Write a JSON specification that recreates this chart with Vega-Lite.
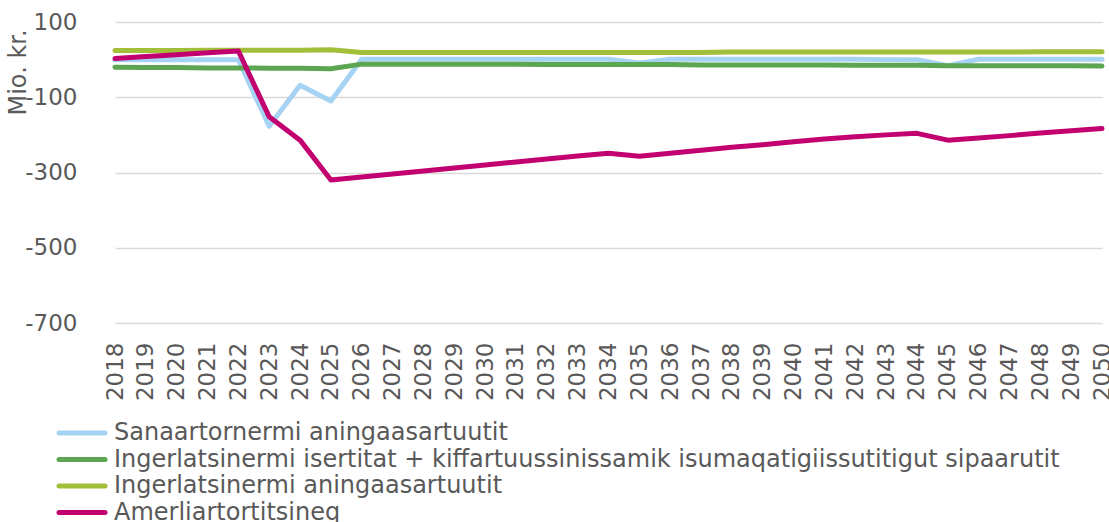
{
  "$schema": "https://vega.github.io/schema/vega-lite/v6.json",
  "autosize": "none",
  "width": 1009,
  "height": 301,
  "padding": {"left": 100, "top": 22, "right": 0, "bottom": 199},
  "background": "white",
  "config": {
    "view": {"stroke": null},
    "font": "DejaVu Sans",
    "axis": {"labelColor": "#595959", "titleColor": "#595959", "labelFontSize": 23, "titleFontSize": 24, "titleFontWeight": "normal", "gridColor": "#d9d9d9", "gridWidth": 1.5, "domain": false, "ticks": false},
    "legend": {"labelColor": "#595959", "labelFontSize": 24}
  },
  "data": {"values": [
    {"year": "2018", "series": "Sanaartornermi aningaasartuutit", "value": 0},
    {"year": "2019", "series": "Sanaartornermi aningaasartuutit", "value": 0},
    {"year": "2020", "series": "Sanaartornermi aningaasartuutit", "value": 0},
    {"year": "2021", "series": "Sanaartornermi aningaasartuutit", "value": 0},
    {"year": "2022", "series": "Sanaartornermi aningaasartuutit", "value": 0},
    {"year": "2023", "series": "Sanaartornermi aningaasartuutit", "value": -177},
    {"year": "2024", "series": "Sanaartornermi aningaasartuutit", "value": -68},
    {"year": "2025", "series": "Sanaartornermi aningaasartuutit", "value": -110},
    {"year": "2026", "series": "Sanaartornermi aningaasartuutit", "value": 1},
    {"year": "2027", "series": "Sanaartornermi aningaasartuutit", "value": 1},
    {"year": "2028", "series": "Sanaartornermi aningaasartuutit", "value": 1},
    {"year": "2029", "series": "Sanaartornermi aningaasartuutit", "value": 1},
    {"year": "2030", "series": "Sanaartornermi aningaasartuutit", "value": 1},
    {"year": "2031", "series": "Sanaartornermi aningaasartuutit", "value": 1},
    {"year": "2032", "series": "Sanaartornermi aningaasartuutit", "value": 1},
    {"year": "2033", "series": "Sanaartornermi aningaasartuutit", "value": 1},
    {"year": "2034", "series": "Sanaartornermi aningaasartuutit", "value": 1},
    {"year": "2035", "series": "Sanaartornermi aningaasartuutit", "value": -9},
    {"year": "2036", "series": "Sanaartornermi aningaasartuutit", "value": 1},
    {"year": "2037", "series": "Sanaartornermi aningaasartuutit", "value": 1},
    {"year": "2038", "series": "Sanaartornermi aningaasartuutit", "value": 1},
    {"year": "2039", "series": "Sanaartornermi aningaasartuutit", "value": 1},
    {"year": "2040", "series": "Sanaartornermi aningaasartuutit", "value": 1},
    {"year": "2041", "series": "Sanaartornermi aningaasartuutit", "value": 1},
    {"year": "2042", "series": "Sanaartornermi aningaasartuutit", "value": 1},
    {"year": "2043", "series": "Sanaartornermi aningaasartuutit", "value": 0},
    {"year": "2044", "series": "Sanaartornermi aningaasartuutit", "value": 0},
    {"year": "2045", "series": "Sanaartornermi aningaasartuutit", "value": -16},
    {"year": "2046", "series": "Sanaartornermi aningaasartuutit", "value": 1},
    {"year": "2047", "series": "Sanaartornermi aningaasartuutit", "value": 1},
    {"year": "2048", "series": "Sanaartornermi aningaasartuutit", "value": 1},
    {"year": "2049", "series": "Sanaartornermi aningaasartuutit", "value": 1},
    {"year": "2050", "series": "Sanaartornermi aningaasartuutit", "value": 1},

    {"year": "2018", "series": "Ingerlatsinermi isertitat + kiffartuussinissamik isumaqatigiissutitigut sipaarutit", "value": -20},
    {"year": "2019", "series": "Ingerlatsinermi isertitat + kiffartuussinissamik isumaqatigiissutitigut sipaarutit", "value": -21},
    {"year": "2020", "series": "Ingerlatsinermi isertitat + kiffartuussinissamik isumaqatigiissutitigut sipaarutit", "value": -21},
    {"year": "2021", "series": "Ingerlatsinermi isertitat + kiffartuussinissamik isumaqatigiissutitigut sipaarutit", "value": -22},
    {"year": "2022", "series": "Ingerlatsinermi isertitat + kiffartuussinissamik isumaqatigiissutitigut sipaarutit", "value": -22},
    {"year": "2023", "series": "Ingerlatsinermi isertitat + kiffartuussinissamik isumaqatigiissutitigut sipaarutit", "value": -23},
    {"year": "2024", "series": "Ingerlatsinermi isertitat + kiffartuussinissamik isumaqatigiissutitigut sipaarutit", "value": -23},
    {"year": "2025", "series": "Ingerlatsinermi isertitat + kiffartuussinissamik isumaqatigiissutitigut sipaarutit", "value": -24},
    {"year": "2026", "series": "Ingerlatsinermi isertitat + kiffartuussinissamik isumaqatigiissutitigut sipaarutit", "value": -12},
    {"year": "2027", "series": "Ingerlatsinermi isertitat + kiffartuussinissamik isumaqatigiissutitigut sipaarutit", "value": -12},
    {"year": "2028", "series": "Ingerlatsinermi isertitat + kiffartuussinissamik isumaqatigiissutitigut sipaarutit", "value": -12},
    {"year": "2029", "series": "Ingerlatsinermi isertitat + kiffartuussinissamik isumaqatigiissutitigut sipaarutit", "value": -12},
    {"year": "2030", "series": "Ingerlatsinermi isertitat + kiffartuussinissamik isumaqatigiissutitigut sipaarutit", "value": -12},
    {"year": "2031", "series": "Ingerlatsinermi isertitat + kiffartuussinissamik isumaqatigiissutitigut sipaarutit", "value": -12},
    {"year": "2032", "series": "Ingerlatsinermi isertitat + kiffartuussinissamik isumaqatigiissutitigut sipaarutit", "value": -13},
    {"year": "2033", "series": "Ingerlatsinermi isertitat + kiffartuussinissamik isumaqatigiissutitigut sipaarutit", "value": -13},
    {"year": "2034", "series": "Ingerlatsinermi isertitat + kiffartuussinissamik isumaqatigiissutitigut sipaarutit", "value": -13},
    {"year": "2035", "series": "Ingerlatsinermi isertitat + kiffartuussinissamik isumaqatigiissutitigut sipaarutit", "value": -13},
    {"year": "2036", "series": "Ingerlatsinermi isertitat + kiffartuussinissamik isumaqatigiissutitigut sipaarutit", "value": -13},
    {"year": "2037", "series": "Ingerlatsinermi isertitat + kiffartuussinissamik isumaqatigiissutitigut sipaarutit", "value": -14},
    {"year": "2038", "series": "Ingerlatsinermi isertitat + kiffartuussinissamik isumaqatigiissutitigut sipaarutit", "value": -14},
    {"year": "2039", "series": "Ingerlatsinermi isertitat + kiffartuussinissamik isumaqatigiissutitigut sipaarutit", "value": -14},
    {"year": "2040", "series": "Ingerlatsinermi isertitat + kiffartuussinissamik isumaqatigiissutitigut sipaarutit", "value": -14},
    {"year": "2041", "series": "Ingerlatsinermi isertitat + kiffartuussinissamik isumaqatigiissutitigut sipaarutit", "value": -14},
    {"year": "2042", "series": "Ingerlatsinermi isertitat + kiffartuussinissamik isumaqatigiissutitigut sipaarutit", "value": -15},
    {"year": "2043", "series": "Ingerlatsinermi isertitat + kiffartuussinissamik isumaqatigiissutitigut sipaarutit", "value": -15},
    {"year": "2044", "series": "Ingerlatsinermi isertitat + kiffartuussinissamik isumaqatigiissutitigut sipaarutit", "value": -15},
    {"year": "2045", "series": "Ingerlatsinermi isertitat + kiffartuussinissamik isumaqatigiissutitigut sipaarutit", "value": -16},
    {"year": "2046", "series": "Ingerlatsinermi isertitat + kiffartuussinissamik isumaqatigiissutitigut sipaarutit", "value": -16},
    {"year": "2047", "series": "Ingerlatsinermi isertitat + kiffartuussinissamik isumaqatigiissutitigut sipaarutit", "value": -16},
    {"year": "2048", "series": "Ingerlatsinermi isertitat + kiffartuussinissamik isumaqatigiissutitigut sipaarutit", "value": -16},
    {"year": "2049", "series": "Ingerlatsinermi isertitat + kiffartuussinissamik isumaqatigiissutitigut sipaarutit", "value": -16},
    {"year": "2050", "series": "Ingerlatsinermi isertitat + kiffartuussinissamik isumaqatigiissutitigut sipaarutit", "value": -17},

    {"year": "2018", "series": "Ingerlatsinermi aningaasartuutit", "value": 24},
    {"year": "2019", "series": "Ingerlatsinermi aningaasartuutit", "value": 24},
    {"year": "2020", "series": "Ingerlatsinermi aningaasartuutit", "value": 24},
    {"year": "2021", "series": "Ingerlatsinermi aningaasartuutit", "value": 25},
    {"year": "2022", "series": "Ingerlatsinermi aningaasartuutit", "value": 25},
    {"year": "2023", "series": "Ingerlatsinermi aningaasartuutit", "value": 25},
    {"year": "2024", "series": "Ingerlatsinermi aningaasartuutit", "value": 25},
    {"year": "2025", "series": "Ingerlatsinermi aningaasartuutit", "value": 26},
    {"year": "2026", "series": "Ingerlatsinermi aningaasartuutit", "value": 19},
    {"year": "2027", "series": "Ingerlatsinermi aningaasartuutit", "value": 19},
    {"year": "2028", "series": "Ingerlatsinermi aningaasartuutit", "value": 19},
    {"year": "2029", "series": "Ingerlatsinermi aningaasartuutit", "value": 19},
    {"year": "2030", "series": "Ingerlatsinermi aningaasartuutit", "value": 19},
    {"year": "2031", "series": "Ingerlatsinermi aningaasartuutit", "value": 19},
    {"year": "2032", "series": "Ingerlatsinermi aningaasartuutit", "value": 19},
    {"year": "2033", "series": "Ingerlatsinermi aningaasartuutit", "value": 19},
    {"year": "2034", "series": "Ingerlatsinermi aningaasartuutit", "value": 19},
    {"year": "2035", "series": "Ingerlatsinermi aningaasartuutit", "value": 19},
    {"year": "2036", "series": "Ingerlatsinermi aningaasartuutit", "value": 19},
    {"year": "2037", "series": "Ingerlatsinermi aningaasartuutit", "value": 19},
    {"year": "2038", "series": "Ingerlatsinermi aningaasartuutit", "value": 20},
    {"year": "2039", "series": "Ingerlatsinermi aningaasartuutit", "value": 20},
    {"year": "2040", "series": "Ingerlatsinermi aningaasartuutit", "value": 20},
    {"year": "2041", "series": "Ingerlatsinermi aningaasartuutit", "value": 20},
    {"year": "2042", "series": "Ingerlatsinermi aningaasartuutit", "value": 20},
    {"year": "2043", "series": "Ingerlatsinermi aningaasartuutit", "value": 20},
    {"year": "2044", "series": "Ingerlatsinermi aningaasartuutit", "value": 20},
    {"year": "2045", "series": "Ingerlatsinermi aningaasartuutit", "value": 20},
    {"year": "2046", "series": "Ingerlatsinermi aningaasartuutit", "value": 20},
    {"year": "2047", "series": "Ingerlatsinermi aningaasartuutit", "value": 20},
    {"year": "2048", "series": "Ingerlatsinermi aningaasartuutit", "value": 21},
    {"year": "2049", "series": "Ingerlatsinermi aningaasartuutit", "value": 21},
    {"year": "2050", "series": "Ingerlatsinermi aningaasartuutit", "value": 21},

    {"year": "2018", "series": "Amerliartortitsineq", "value": 3},
    {"year": "2019", "series": "Amerliartortitsineq", "value": 8},
    {"year": "2020", "series": "Amerliartortitsineq", "value": 13},
    {"year": "2021", "series": "Amerliartortitsineq", "value": 18},
    {"year": "2022", "series": "Amerliartortitsineq", "value": 23},
    {"year": "2023", "series": "Amerliartortitsineq", "value": -152},
    {"year": "2024", "series": "Amerliartortitsineq", "value": -214},
    {"year": "2025", "series": "Amerliartortitsineq", "value": -320},
    {"year": "2026", "series": "Amerliartortitsineq", "value": -312},
    {"year": "2027", "series": "Amerliartortitsineq", "value": -304},
    {"year": "2028", "series": "Amerliartortitsineq", "value": -296},
    {"year": "2029", "series": "Amerliartortitsineq", "value": -288},
    {"year": "2030", "series": "Amerliartortitsineq", "value": -280},
    {"year": "2031", "series": "Amerliartortitsineq", "value": -272},
    {"year": "2032", "series": "Amerliartortitsineq", "value": -264},
    {"year": "2033", "series": "Amerliartortitsineq", "value": -256},
    {"year": "2034", "series": "Amerliartortitsineq", "value": -249},
    {"year": "2035", "series": "Amerliartortitsineq", "value": -257},
    {"year": "2036", "series": "Amerliartortitsineq", "value": -249},
    {"year": "2037", "series": "Amerliartortitsineq", "value": -241},
    {"year": "2038", "series": "Amerliartortitsineq", "value": -233},
    {"year": "2039", "series": "Amerliartortitsineq", "value": -226},
    {"year": "2040", "series": "Amerliartortitsineq", "value": -218},
    {"year": "2041", "series": "Amerliartortitsineq", "value": -211},
    {"year": "2042", "series": "Amerliartortitsineq", "value": -205},
    {"year": "2043", "series": "Amerliartortitsineq", "value": -200},
    {"year": "2044", "series": "Amerliartortitsineq", "value": -196},
    {"year": "2045", "series": "Amerliartortitsineq", "value": -214},
    {"year": "2046", "series": "Amerliartortitsineq", "value": -208},
    {"year": "2047", "series": "Amerliartortitsineq", "value": -202},
    {"year": "2048", "series": "Amerliartortitsineq", "value": -195},
    {"year": "2049", "series": "Amerliartortitsineq", "value": -189},
    {"year": "2050", "series": "Amerliartortitsineq", "value": -183}
  ]},
  "mark": {"type": "line", "strokeWidth": 5, "strokeCap": "round", "strokeJoin": "round"},
  "encoding": {
    "x": {"field": "year", "type": "ordinal", "title": null,
      "scale": {"type": "point", "padding": 0, "range": [15, 1002]},
      "axis": {"labelAngle": -90, "labelPadding": 19, "grid": false}},
    "y": {"field": "value", "type": "quantitative", "title": "Mio. kr.",
      "scale": {"domain": [-700, 100], "nice": false, "zero": false},
      "axis": {"values": [100, -100, -300, -500, -700], "labelExpr": "datum.value < 0 ? '-' + abs(datum.value) : '' + datum.value", "labelPadding": 23, "titleAngle": -90, "titleAlign": "left", "titleBaseline": "alphabetic", "titleAnchor": null, "titleX": -75, "titleY": 93}},
    "color": {"field": "series", "type": "nominal",
      "scale": {"domain": ["Sanaartornermi aningaasartuutit", "Ingerlatsinermi isertitat + kiffartuussinissamik isumaqatigiissutitigut sipaarutit", "Ingerlatsinermi aningaasartuutit", "Amerliartortitsineq"],
        "range": ["#a6d3f4", "#5ca651", "#a2bf39", "#c2006f"]},
      "legend": {"title": null, "orient": "none", "legendX": -30, "legendY": 399, "padding": 0, "direction": "vertical",
        "symbolType": "M-4.6,0H4.6", "symbolSize": 100, "symbolStrokeWidth": 5, "labelOffset": 20, "rowPadding": 2.5, "labelLimit": 1100,
        "encode": {"symbols": {"update": {"strokeCap": {"value": "round"}}}}}}
  }
}
